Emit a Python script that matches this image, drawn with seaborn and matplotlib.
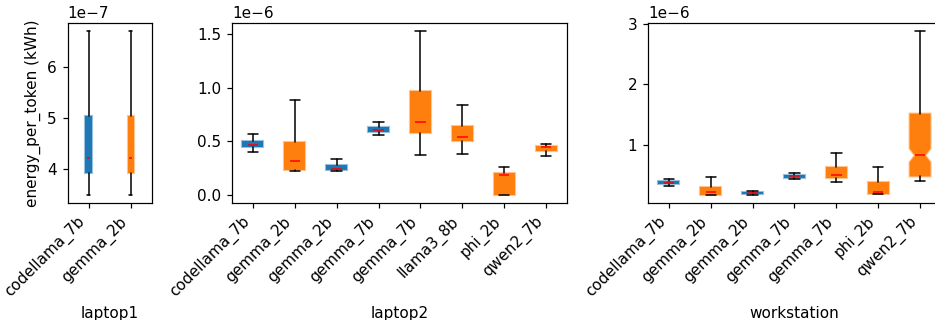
import seaborn as sns
import matplotlib.pyplot as plt
from matplotlib.colors import to_rgba

# values (kWh per token)
laptop1_models = ['codellama_7b', 'gemma_2b']
laptop1_lo = [3.50e-7, 3.50e-7]
laptop1_q1 = [3.92e-7, 3.92e-7]
laptop1_med = [4.21e-7, 4.21e-7]
laptop1_q3 = [5.04e-7, 5.04e-7]
laptop1_hi = [6.69e-7, 6.69e-7]
laptop1_color = [0, 1]

laptop2_models = ['codellama_7b', 'gemma_2b', 'gemma_2b', 'gemma_7b',
                  'gemma_7b', 'llama3_8b', 'phi_2b', 'qwen2_7b']
laptop2_lo = [0.400e-6, 0.218e-6, 0.218e-6, 0.562e-6, 0.371e-6, 0.384e-6, 0.000e-6, 0.361e-6]
laptop2_q1 = [0.446e-6, 0.230e-6, 0.228e-6, 0.586e-6, 0.577e-6, 0.506e-6, 0.001e-6, 0.408e-6]
laptop2_med = [0.465e-6, 0.315e-6, 0.243e-6, 0.602e-6, 0.683e-6, 0.537e-6, 0.181e-6, 0.446e-6]
laptop2_q3 = [0.500e-6, 0.496e-6, 0.280e-6, 0.633e-6, 0.967e-6, 0.646e-6, 0.200e-6, 0.455e-6]
laptop2_hi = [0.565e-6, 0.886e-6, 0.337e-6, 0.680e-6, 1.529e-6, 0.836e-6, 0.262e-6, 0.474e-6]
laptop2_color = [0, 1, 0, 0, 1, 1, 1, 1]

ws_models = ['codellama_7b', 'gemma_2b', 'gemma_2b', 'gemma_7b',
             'gemma_7b', 'phi_2b', 'qwen2_7b']
ws_lo = [0.320e-6, 0.177e-6, 0.178e-6, 0.436e-6, 0.390e-6, 0.190e-6, 0.403e-6]
ws_q1 = [0.357e-6, 0.180e-6, 0.185e-6, 0.457e-6, 0.457e-6, 0.194e-6, 0.480e-6]
ws_med = [0.378e-6, 0.220e-6, 0.205e-6, 0.485e-6, 0.507e-6, 0.227e-6, 0.826e-6]
ws_q3 = [0.400e-6, 0.310e-6, 0.220e-6, 0.507e-6, 0.638e-6, 0.387e-6, 1.516e-6]
ws_hi = [0.430e-6, 0.470e-6, 0.232e-6, 0.535e-6, 0.864e-6, 0.633e-6, 2.875e-6]
ws_cilo = [None, None, None, None, None, None, 0.715e-6]
ws_cihi = [None, None, None, None, None, None, 0.940e-6]
ws_color = [0, 1, 0, 0, 1, 1, 1]

sns.set_style('ticks', {'axes.edgecolor': 'black', 'text.color': 'black',
                        'axes.labelcolor': 'black', 'xtick.color': 'black',
                        'ytick.color': 'black'})
plt.rcParams['font.family'] = ['DejaVu Sans']
plt.rcParams['font.size'] = 10
palette = sns.color_palette('tab10')


def draw(ax, models, lo, q1, med, q3, hi, colors, name, cilo=None, cihi=None):
    stats = []
    for i in range(len(models)):
        lo_ci = med[i] if cilo is None or cilo[i] is None else cilo[i]
        hi_ci = med[i] if cihi is None or cihi[i] is None else cihi[i]
        stats.append(dict(label=models[i], whislo=lo[i], q1=q1[i], med=med[i],
                          q3=q3[i], whishi=hi[i], cilo=lo_ci, cihi=hi_ci, fliers=[]))
    # default widths: 0.15 * spread of positions, clipped to [0.15, 0.5]
    bp = ax.bxp(stats, shownotches=True, patch_artist=True, showfliers=False,
                medianprops=dict(color='red', linewidth=1),
                whiskerprops=dict(color='black', linewidth=1),
                capprops=dict(color='black', linewidth=1))
    for patch, c in zip(bp['boxes'], colors):
        patch.set_facecolor(palette[c])
        patch.set_edgecolor(to_rgba(palette[c], 0.45))
        patch.set_linewidth(1.4)
    ax.set_xticks(range(1, len(models) + 1))
    ax.set_xticklabels(models, rotation=45, ha='right')
    ax.set_xlabel(name)


W, H = 935, 320
fig = plt.figure(figsize=(W / 110, H / 110), dpi=110)
ax1 = fig.add_axes([67.5 / W, 117 / H, 84.5 / W, 180 / H])
ax2 = fig.add_axes([232 / W, 117 / H, 335 / W, 180 / H])
ax3 = fig.add_axes([648 / W, 117 / H, 293 / W, 180 / H])

draw(ax1, laptop1_models, laptop1_lo, laptop1_q1, laptop1_med, laptop1_q3,
     laptop1_hi, laptop1_color, 'laptop1')
draw(ax2, laptop2_models, laptop2_lo, laptop2_q1, laptop2_med, laptop2_q3,
     laptop2_hi, laptop2_color, 'laptop2')
draw(ax3, ws_models, ws_lo, ws_q1, ws_med, ws_q3, ws_hi, ws_color,
     'workstation', ws_cilo, ws_cihi)

ax1.set_ylabel('energy_per_token (kWh)')

fig.savefig('out.png', dpi=110)
